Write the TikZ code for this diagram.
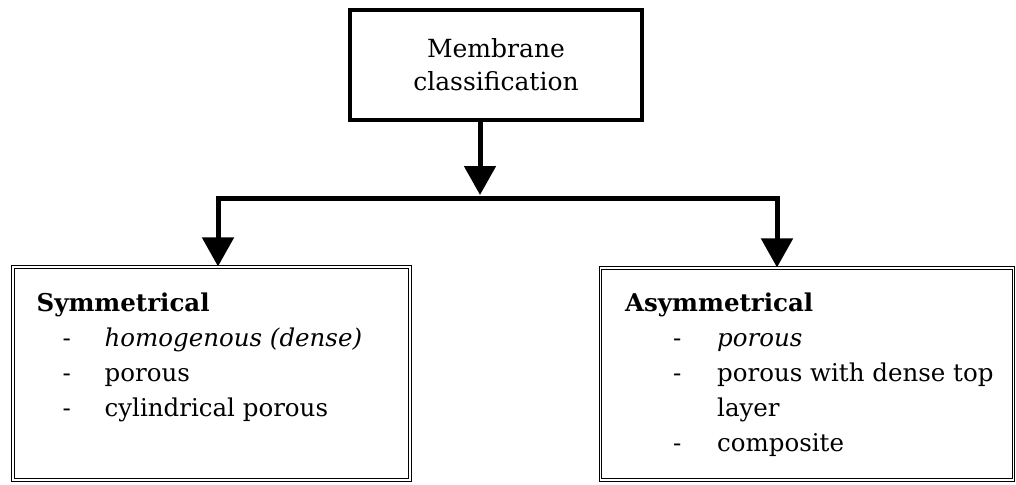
\documentclass[tikz,border=0pt]{standalone}
\usepackage{fontspec}
\setmainfont{DejaVu Serif}
\usepackage{tikz}
\usetikzlibrary{arrows.meta,positioning}
\tikzset{
  headbox/.style={draw=black,line width=4.5pt,fill=white,inner sep=0pt,align=center,minimum width=292pt,minimum height=110pt,font=\fontsize{25}{33}\selectfont},
  leafbox/.style={draw=black,line width=1.1pt,double,double distance=1.6pt,inner sep=0pt},
  leaftext/.style={inner sep=0pt,align=left,anchor=north west,font=\fontsize{24.5}{35}\selectfont},
  arrow/.style={-{Triangle[width=31pt,length=29pt]},line width=5pt,color=black},
}
\begin{document}
\begin{tikzpicture}[x=1pt,y=-1pt]
    \useasboundingbox (0,0) rectangle (1016,484);
    \node[headbox] (mc) at (496,65) {Membrane\\classification};
    \node[leafbox,minimum width=397pt,minimum height=213pt] (sym) at (211.5,373.5) {};
    \node[leafbox,minimum width=413pt,minimum height=212pt] (asym) at (807,374) {};
    \node[leaftext] (symt) at ([xshift=24pt,yshift=-26pt]sym.north west) {\textbf{Symmetrical}\\
      \begin{tabular}[t]{@{\hspace{26pt}}p{42pt}@{}l@{}}
        - & \textit{homogenous (dense)}\\
        - & porous\\
        - & cylindrical porous
      \end{tabular}};
    \node[leaftext] (asymt) at ([xshift=25pt,yshift=-25pt]asym.north west) {\textbf{Asymmetrical}\\
      \begin{tabular}[t]{@{\hspace{48pt}}p{44pt}@{}l@{}}
        - & \textit{porous}\\
        - & porous with dense top\\
          & layer\\
        - & composite
      \end{tabular}};
    \coordinate (split) at (480,198);
    \coordinate (lft) at (218,198);
    \coordinate (rgt) at (777,198);
    \draw[arrow] (mc.south -| split) -- ([yshift=3pt]split);
    \draw[arrow] (split) -| (lft |- sym.north);
    \draw[arrow] (split) -| (rgt |- asym.north);
  \end{tikzpicture}
\end{document}
